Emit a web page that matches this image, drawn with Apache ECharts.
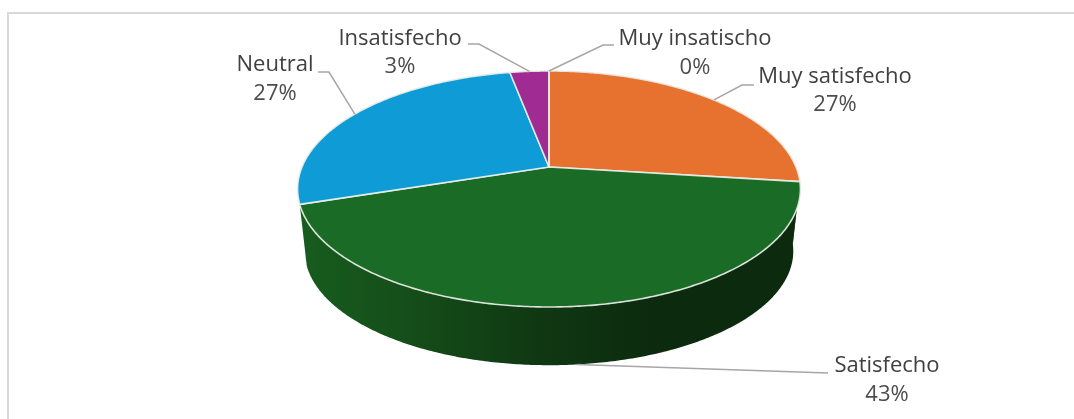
<!DOCTYPE html>
<html>
<head>
<meta charset="utf-8">
<style>html,body{margin:0;padding:0;background:#fff}#c{width:1074px;height:419px}</style>
<script src="https://cdn.jsdelivr.net/npm/echarts@6/dist/echarts.min.js"></script>
</head>
<body>
<div id="c"></div>
<script>
// Data
const categories = ['Muy satisfecho', 'Satisfecho', 'Neutral', 'Insatisfecho', 'Muy insatischo'];
const values = [27, 43, 27, 3, 0];

// Styling / layout (kept apart from the data)
const sliceColors = ['#e77230', '#1a6b25', '#0f9bd6', '#a02b92', '#a02b92'];
const wallStops = [
  [[0, '#8a4420'], [1, '#8a4420']],
  [[0, '#175c1e'], [0.2, '#154f1a'], [0.45, '#103a13'], [0.7, '#0c2b0e'], [1, '#0c2a0e']],
  [[0, '#cfe8f4'], [1, '#cfe8f4']],
  [[0, '#5f1a57'], [1, '#5f1a57']],
  [[0, '#5f1a57'], [1, '#5f1a57']]
];
const labelLayout = [
  { cx: 835, y1: 77, y2: 105, path: [[754, 85], [742, 85]] },
  { cx: 887, y1: 366, y2: 395, path: [[828, 373]] },
  { cx: 275, y1: 65, y2: 94, path: [[318, 72], [329, 72]] },
  { cx: 400, y1: 39, y2: 67, path: [[468, 44], [479, 44]] },
  { cx: 695, y1: 39, y2: 68, path: [[614, 45], [603, 45]] }
];
const persp = 0.1864;
const topDisc = { x: 549, y: 167, a: 247, b: 113.9 };
const baseDisc = { x: 549, y: 230, a: 240, b: 110 };

const total = values.reduce((s, v) => s + v, 0);
function project(d, theta) {
  const s = Math.sin(theta), c = Math.cos(theta), den = 1 + persp * c;
  return [d.x + d.a * s / den, d.y - d.b * c / den];
}
function arc(d, from, to) {
  const n = Math.max(1, Math.ceil(Math.abs(to - from) / 0.01));
  const pts = [];
  for (let i = 0; i <= n; i++) pts.push(project(d, from + (to - from) * i / n));
  return pts;
}

function renderItem(params, api) {
  const i = params.dataIndex;
  const before = values.slice(0, i).reduce((s, v) => s + v, 0);
  const v = api.value(0);
  const a0 = before / total * 2 * Math.PI;
  const a1 = (before + v) / total * 2 * Math.PI;
  const mid = (a0 + a1) / 2;
  const front = Math.cos(mid) < -0.5;
  const children = [];
  if (v > 0) {
    children.push({
      type: 'polygon', z2: front ? 2 : 1, silent: true,
      shape: { points: arc(topDisc, a0, a1).concat(arc(baseDisc, a1, a0)) },
      style: { fill: new echarts.graphic.LinearGradient(0, 0, 1, 0, wallStops[i].map(s => ({ offset: s[0], color: s[1] }))) }
    });
  }
  children.push({
    type: 'polygon', z2: 5, silent: true,
    shape: { points: [[topDisc.x, topDisc.y]].concat(arc(topDisc, a0, a1)) },
    style: { fill: sliceColors[i], stroke: 'rgba(235,240,235,0.9)', lineWidth: 1.6, lineJoin: 'round' }
  });
  // leader line: anchored on the slice's mid-angle; front slices hang from the base rim
  const anchor = project(front ? baseDisc : topDisc, mid);
  const lay = labelLayout[i];
  children.push({
    type: 'polyline', z2: 6, silent: true,
    shape: { points: lay.path.concat([anchor]) },
    style: { fill: null, stroke: '#a6a6a6', lineWidth: 1.5 }
  });
  const font = '22px "Open Sans", sans-serif';
  children.push({
    type: 'text', z2: 7, silent: true,
    style: { x: lay.cx, y: lay.y1, text: categories[i], fill: '#404040', font, align: 'center', verticalAlign: 'middle' }
  });
  children.push({
    type: 'text', z2: 7, silent: true,
    style: { x: lay.cx, y: lay.y2, text: Math.round(v / total * 100) + '%', fill: '#4d4d4d', font, align: 'center', verticalAlign: 'middle' }
  });
  return { type: 'group', children };
}

const chart = echarts.init(document.getElementById('c'), null, { renderer: 'canvas' });
chart.setOption({
  animation: false,
  backgroundColor: '#fff',
  graphic: [
    { type: 'line', silent: true, shape: { x1: 7, y1: 13, x2: 1074, y2: 13 }, style: { stroke: '#d9d9d9', lineWidth: 2 } },
    { type: 'line', silent: true, shape: { x1: 8, y1: 13, x2: 8, y2: 419 }, style: { stroke: '#d9d9d9', lineWidth: 2 } }
  ],
  series: [{
    type: 'custom',
    coordinateSystem: 'none',
    renderItem,
    data: values.map((v, i) => ({ name: categories[i], value: [v] }))
  }]
});
</script>
</body>
</html>
